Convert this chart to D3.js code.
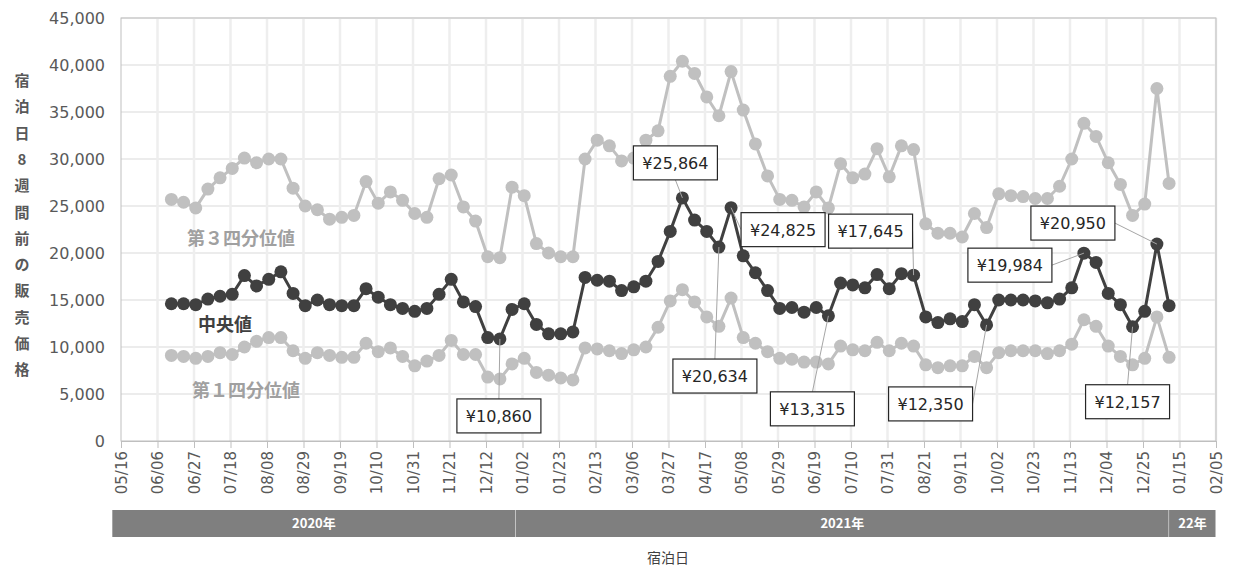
<!DOCTYPE html>
<html><head><meta charset="utf-8">
<script src="https://cdn.jsdelivr.net/npm/d3@7"></script>
<style>
body{margin:0;background:#fff;font-family:"DejaVu Sans","Noto Sans CJK JP",sans-serif;}
</style></head>
<body><svg id="chart" width="1234" height="572"></svg>
<script>
const startDate = '2020-06-14';
const q3 = [25.7,25.4,24.8,26.8,28.0,29.0,30.1,29.6,30.0,30.0, 26.9,25.0,24.6,23.6,23.8,24.0,27.6,25.3,26.5,25.6,
  24.2,23.8,27.9,28.3,24.9,23.4,19.6,19.5,27.0,26.1, 21.0,20.0,19.6,19.6,30.0,32.0,31.4,29.8,30.1,32.0,
  33.0,38.8,40.4,39.1,36.6,34.6,39.3,35.2,31.6,28.2, 25.7,25.6,24.9,26.5,24.8,29.5,28.0,28.4,31.1,28.1,
  31.4,31.0,23.1,22.1,22.1,21.7,24.2,22.7,26.3,26.1, 26.0,25.8,25.8,27.1,30.0,33.8,32.4,29.6,27.3,24.0,
  25.2,37.5,27.4].map(v => v * 1000);
const median = [14.6,14.6,14.5,15.1,15.4,15.6,17.6,16.5,17.2,18.0, 15.7,14.4,15.0,14.5,14.4,14.4,16.2,15.3,14.5,14.1,
  13.8,14.1,15.6,17.2,14.8,14.3,11.0,10.86,14.0,14.6, 12.4,11.4,11.4,11.6,17.4,17.1,17.0,16.0,16.4,17.0,
  19.1,22.3,25.864,23.5,22.3,20.634,24.825,19.7,17.9,16.0, 14.1,14.2,13.7,14.2,13.315,16.8,16.6,16.3,17.7,16.2,
  17.8,17.645,13.2,12.6,13.0,12.7,14.5,12.35,15.0,15.0, 15.0,14.9,14.7,15.1,16.3,19.984,19.0,15.7,14.5,12.157,
  13.8,20.95,14.4].map(v => v * 1000);
const q1 = [9.1,9.0,8.8,9.0,9.4,9.2,10.0,10.6,11.0,11.0, 9.6,8.8,9.4,9.1,8.9,8.9,10.4,9.5,9.9,9.0,
  8.0,8.5,9.1,10.7,9.2,9.2,6.8,6.6,8.2,8.8, 7.3,7.0,6.7,6.5,9.9,9.8,9.6,9.3,9.7,10.0,
  12.1,14.9,16.1,14.8,13.2,12.2,15.2,11.0,10.4,9.5, 8.8,8.7,8.4,8.4,8.2,10.1,9.7,9.6,10.5,9.6,
  10.4,10.1,8.1,7.8,8.0,8.0,9.0,7.8,9.4,9.6, 9.6,9.6,9.3,9.6,10.3,12.9,12.2,10.1,9.0,8.1,
  8.8,13.2,8.9].map(v => v * 1000);
const calloutIndex = [27, 42, 45, 46, 54, 61, 67, 75, 79, 81];
const yTicks = d3.range(0, 45001, 5000);
const years = [{label:'2020年', from:'2020-05-11', to:'2020-12-29'},
  {label:'2021年', from:'2020-12-29', to:'2022-01-09'},
  {label:'22年', from:'2022-01-09', to:'2022-02-05'}];
const seriesLabels = [{text:'第３四分位値', v:20800, c:'#a0a0a0', dx:66}, {text:'中央値', v:11700, c:'#404040', dx:77},
  {text:'第１四分位値', v:4700, c:'#a0a0a0', dx:71}];
// label box offsets from point (pixels)
const boxPos = [[-1,77],[-7,-35],[-4,129],[52,22],[-16,93],[-43,-44],[-56,79],[-74,12],[-5,75],[-84,-21]];

const parse = d3.timeParse('%Y-%m-%d');
const dates = q3.map((_, i) => d3.timeDay.offset(parse(startDate), i * 7));
const m = {left: 121, right: 1216, top: 18, bottom: 441};
const svg = d3.select('#chart');

const x = d3.scaleTime().domain([parse('2020-05-16'), parse('2022-02-05')]).range([m.left, m.right]);
const y = d3.scaleLinear().domain([0, 45000]).range([m.bottom, m.top]);
const xTicks = d3.range(0, 631, 21).map(d => d3.timeDay.offset(parse('2020-05-16'), d));

// grid
svg.append('g').selectAll('line').data(yTicks.slice(1)).join('line')
  .attr('x1', m.left).attr('x2', m.right).attr('y1', d => y(d)).attr('y2', d => y(d))
  .attr('stroke', '#e6e6e6').attr('stroke-width', 1.5);
svg.append('g').selectAll('line').data(xTicks.slice(1)).join('line')
  .attr('x1', d => x(d)).attr('x2', d => x(d)).attr('y1', m.top).attr('y2', m.bottom)
  .attr('stroke', '#eeeeee').attr('stroke-width', 2.5);
svg.append('rect').attr('x', m.left).attr('y', m.top).attr('width', m.right - m.left)
  .attr('height', m.bottom - m.top).attr('fill', 'none').attr('stroke', '#bfbfbf');

// y axis
const yAxis = svg.append('g').attr('transform', `translate(${m.left},0)`)
  .call(d3.axisLeft(y).tickValues(yTicks).tickFormat(d3.format(',')).tickSize(0).tickPadding(16));
yAxis.select('.domain').remove();
yAxis.selectAll('text').attr('font-size', 16).attr('fill', '#595959').attr('font-family', 'DejaVu Sans');

// x axis
const xAxis = svg.append('g').attr('transform', `translate(0,${m.bottom})`)
  .call(d3.axisBottom(x).tickValues(xTicks).tickFormat(d3.timeFormat('%m/%d')).tickSize(7));
xAxis.select('.domain').attr('stroke', '#bfbfbf');
xAxis.selectAll('line').attr('stroke', '#bfbfbf');
xAxis.selectAll('text').attr('font-size', 15).attr('fill', '#595959').attr('font-family', 'DejaVu Sans')
  .attr('transform', 'rotate(-90)').attr('text-anchor', 'end').attr('dx', -10).attr('dy', '0.35em').attr('y', 0);

// year bands
const band = svg.append('g');
years.forEach(yr => {
  const x0 = x(parse(yr.from)), x1 = x(parse(yr.to));
  band.append('rect').attr('x', x0).attr('y', 510).attr('width', x1 - x0).attr('height', 27).attr('fill', '#7f7f7f');
  band.append('line').attr('x1', x1).attr('x2', x1).attr('y1', 510).attr('y2', 537).attr('stroke', '#fff');
  band.append('text').attr('x', (x0 + x1) / 2).attr('y', 528).attr('text-anchor', 'middle')
    .attr('fill', '#fff').attr('font-size', 13).attr('font-weight', 'bold').attr('font-family', 'Noto Sans CJK JP')
    .text(yr.label);
});
svg.append('text').attr('x', 668).attr('y', 563).attr('text-anchor', 'middle').attr('font-size', 14)
  .attr('fill', '#404040').attr('font-family', 'Noto Sans CJK JP').text('宿泊日');

// y title stacked
const yTitle = '宿泊日8週間前の販売価格';
svg.append('g').selectAll('text').data(yTitle.split('')).join('text')
  .attr('x', 22).attr('y', (d, i) => 86 + i * 26.3).attr('text-anchor', 'middle')
  .attr('font-size', 15).attr('font-weight', 'bold').attr('fill', '#595959')
  .attr('font-family', 'Noto Sans CJK JP').text(d => d);

// series
const line = d3.line().x((d, i) => x(dates[i])).y(d => y(d));
[[q3, '#c0c0c0'], [q1, '#c0c0c0'], [median, '#404040']].forEach(([s, c]) => {
  const g = svg.append('g');
  g.append('path').datum(s).attr('d', line).attr('fill', 'none').attr('stroke', c).attr('stroke-width', 3);
  g.selectAll('circle').data(s).join('circle').attr('cx', (d, i) => x(dates[i])).attr('cy', d => y(d))
    .attr('r', 6.5).attr('fill', c);
});

seriesLabels.forEach(l => {
  svg.append('text').attr('x', m.left + l.dx).attr('y', y(l.v)).attr('font-size', 18).attr('font-weight', 'bold')
    .attr('fill', l.c).attr('font-family', 'Noto Sans CJK JP').text(l.text);
});

// callouts
const fmt = d3.format(',');
calloutIndex.forEach((idx, k) => {
  const px = x(dates[idx]), py = y(median[idx]);
  const [dx, dy] = boxPos[k];
  const bx = px + dx, by = py + dy;
  const w = 84, h = 34;
  let lx = bx, ly = by > py ? by - h / 2 : by + h / 2;
  if (Math.abs(dx) > 40 && Math.abs(dy) < 30) { lx = bx + (dx > 0 ? -w / 2 : w / 2); ly = by; }
  else if (Math.abs(dx) > 40) { lx = bx + (dx > 0 ? -w / 2 : w / 2) ; ly = by; }
  svg.append('line').attr('x1', px).attr('y1', py).attr('x2', lx).attr('y2', ly)
    .attr('stroke', '#a6a6a6').attr('stroke-width', 1);
  svg.append('rect').attr('x', bx - w / 2).attr('y', by - h / 2).attr('width', w).attr('height', h)
    .attr('fill', '#fff').attr('stroke', '#262626').attr('stroke-width', 1.2);
  svg.append('text').attr('x', bx).attr('y', by + 6).attr('text-anchor', 'middle').attr('font-size', 16)
    .attr('fill', '#262626').attr('font-family', 'DejaVu Sans').text('¥' + fmt(Math.round(median[idx])));
});
</script></body></html>
